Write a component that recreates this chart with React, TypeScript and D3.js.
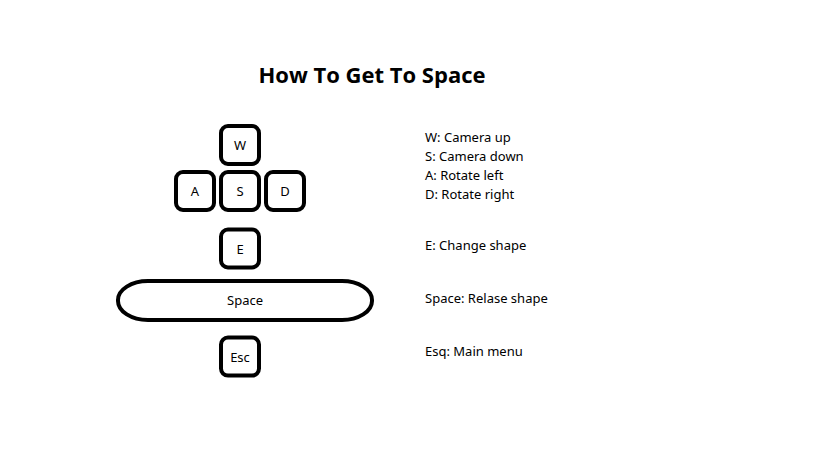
import * as d3 from 'd3';

// key caps: label, column, row (grid units)
const keyLabels = ['W', 'A', 'S', 'D', 'E', 'Esc'];
const keyCols = [1, 0, 1, 2, 1, 1];
const keyRows = [0, 1, 1, 1, 2.25, 4.6];

const legendLines = [
  'W: Camera up',
  'S: Camera down',
  'A: Rotate left',
  'D: Rotate right',
  'E: Change shape',
  'Space: Relase shape',
  'Esq: Main menu',
];
const legendY = [137, 156, 175, 194, 245, 298, 351];

export default function App() {
  const x = d3.scaleLinear().domain([0, 1]).range([176, 221]);
  const y = d3.scaleLinear().domain([0, 1]).range([126, 172]);
  const size = 38;
  return (
    <svg width={819} height={460} style={{ position: 'fixed', left: 0, top: 0, background: '#fff' }}
      fontFamily="'Noto Sans', sans-serif">
      <text x={372} y={83} textAnchor="middle" fontSize={22} fontWeight="bold" fontFamily="'Open Sans', sans-serif">How To Get To Space</text>
      {keyLabels.map((k, i) => (
        <g key={k}>
          <rect x={x(keyCols[i])} y={y(keyRows[i])} width={size} height={size} rx={7}
            fill="none" stroke="#000" strokeWidth={4} />
          <text x={x(keyCols[i]) + size / 2} y={y(keyRows[i]) + size / 2 + 5} textAnchor="middle" fontSize={13}>{k}</text>
        </g>
      ))}
      <rect x={118} y={281} width={254} height={39} rx={30} ry={19} fill="none" stroke="#000" strokeWidth={4} />
      <text x={245} y={305} textAnchor="middle" fontSize={13}>Space</text>
      {legendLines.map((t, i) => (
        <text key={t} x={425} y={legendY[i] + 5} fontSize={13}>{t}</text>
      ))}
    </svg>
  );
}
